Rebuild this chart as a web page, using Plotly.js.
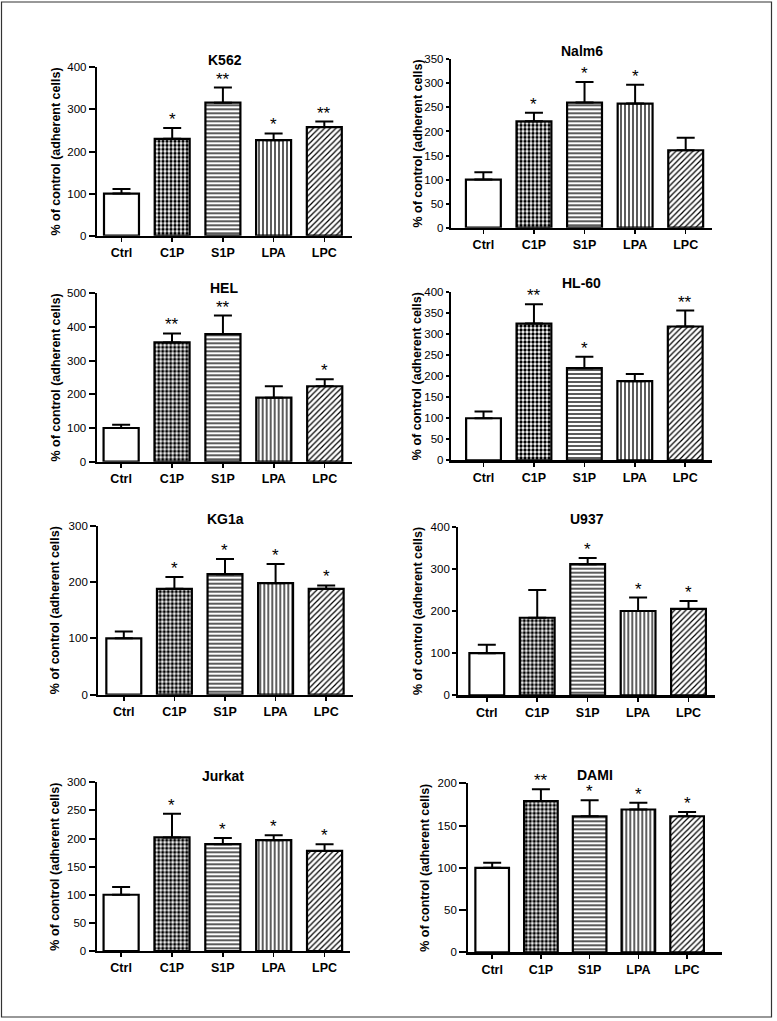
<!DOCTYPE html>
<html><head><meta charset="utf-8">
<script src="https://cdn.plot.ly/plotly-3.0.1.min.js"></script>
<style>body{margin:0;background:#fff}#chart{width:777px;height:1021px}</style>
</head><body><div id="chart"></div>
<script>
// ---- data ----
const categories = ["Ctrl", "C1P", "S1P", "LPA", "LPC"];
const panelNames = ["K562", "Nalm6", "HEL", "HL-60", "KG1a", "U937", "Jurkat", "DAMI"];
const yAxisTitle = "% of control (adherent cells)";

const k562Values = [100, 230, 316, 227, 258];
const k562Err    = [11, 26, 36, 16, 13];
const k562Stars  = ["", "*", "**", "*", "**"];

const nalm6Values = [100, 221, 260, 258, 161];
const nalm6Err    = [15, 18, 43, 39, 26];
const nalm6Stars  = ["", "*", "*", "*", ""];

const helValues = [100, 354, 379, 190, 224];
const helErr    = [10, 27, 55, 34, 21];
const helStars  = ["", "**", "**", "", "*"];

const hl60Values = [100, 325, 219, 188, 318];
const hl60Err    = [16, 46, 27, 17, 38];
const hl60Stars  = ["", "**", "*", "", "**"];

const kg1aValues = [100, 188, 214, 198, 188];
const kg1aErr    = [12, 21, 27, 34, 6];
const kg1aStars  = ["", "*", "*", "*", "*"];

const u937Values = [100, 184, 311, 200, 205];
const u937Err    = [20, 66, 15, 32, 19];
const u937Stars  = ["", "", "*", "*", "*"];

const jurkatValues = [100, 202, 190, 197, 178];
const jurkatErr    = [14, 42, 11, 9, 12];
const jurkatStars  = ["", "*", "*", "*", "*"];

const damiValues = [100, 179, 161, 169, 161];
const damiErr    = [6, 14, 19, 8, 5];
const damiStars  = ["", "**", "*", "*", "*"];

const yMax  = [400, 350, 500, 400, 300, 400, 300, 200];
const yDtick = [100, 50, 100, 50, 100, 100, 50, 50];

const allValues = [k562Values, nalm6Values, helValues, hl60Values, kg1aValues, u937Values, jurkatValues, damiValues];
const allErr    = [k562Err, nalm6Err, helErr, hl60Err, kg1aErr, u937Err, jurkatErr, damiErr];
const allStars  = [k562Stars, nalm6Stars, helStars, hl60Stars, kg1aStars, u937Stars, jurkatStars, damiStars];

// ---- layout geometry (pixels) ----
const W = 777, H = 1021;
// [xLeft, xRight, yTop, yBottom, xRangeLeft, xRangeRight, yTitleX, titleY, yTickLen]
const boxes = [
  [97, 352, 67.3, 235.7, -0.483, 4.546, 56, 60, 6],
  [451, 712, 59.3, 227.7, -0.64, 4.52, 418, 51, 3],
  [96.7, 351.7, 293.3, 461.7, -0.48, 4.53, 55, 288, 6],
  [451, 711.7, 292, 460.3, -0.645, 4.525, 417, 283, 3],
  [98.3, 352.7, 525.7, 694.7, -0.504, 4.524, 55, 519, 6],
  [458.3, 715, 526.7, 695.3, -0.565, 4.525, 418, 519, 4],
  [96.7, 350, 782.3, 951, -0.48, 4.5, 55, 775.5, 6],
  [468.3, 721.7, 783.3, 952.3, -0.49, 4.71, 425, 775, 7]
];

const FONT = "Liberation Sans, Arial, Helvetica, sans-serif";
const patternShapes = ["", ".", "-", "|", "/"];
const patternSizes = [4, 4, 4, 4, 4];
const patternSolid = [0.3, 0.55, 0.32, 0.32, 0.3];

const traces = [];
const annotations = [];
const layout = {
  width: W, height: H,
  margin: {l: 0, r: 0, t: 0, b: 0},
  paper_bgcolor: "#fff", plot_bgcolor: "rgba(0,0,0,0)",
  showlegend: false,
  font: {family: FONT, color: "#000", size: 12},
  shapes: [{
    type: "rect", xref: "paper", yref: "paper",
    x0: 1.5 / W, x1: 771.5 / W, y0: 1 - 1017 / H, y1: 1 - 2 / H,
    line: {color: "#333", width: 1.2}
  }],
  annotations: annotations
};

for (let i = 0; i < 8; i++) {
  const b = boxes[i];
  const s = i === 0 ? "" : String(i + 1);
  const xa = "x" + s, ya = "y" + s;
  traces.push({
    type: "bar", x: categories, y: allValues[i], xaxis: xa, yaxis: ya,
    width: 0.69,
    marker: {
      color: "#fff",
      line: {color: "#000", width: 2.2},
      pattern: {shape: patternShapes, size: patternSizes, solidity: patternSolid,
                fgcolor: "#000", bgcolor: "#fff", fillmode: "replace"}
    },
    error_y: {type: "data", symmetric: false, array: allErr[i], arrayminus: [0,0,0,0,0],
              color: "#000", thickness: 2, width: 9},
    hoverinfo: "skip"
  });
  layout["xaxis" + s] = {
    domain: [b[0] / W, b[1] / W], anchor: ya,
    range: [b[4], b[5]], type: "category",
    showline: true, linecolor: "#000", linewidth: 2.2,
    ticks: "outside", ticklen: 4, tickwidth: 1.5, tickcolor: "#000",
    tickfont: {family: FONT, size: 12.5, weight: "bold", color: "#000"},
    showgrid: false, zeroline: false, fixedrange: true
  };
  layout["yaxis" + s] = {
    domain: [1 - b[3] / H, 1 - b[2] / H], anchor: xa,
    range: [0, yMax[i]], dtick: yDtick[i], tick0: 0,
    showline: true, linecolor: "#000", linewidth: 2.2,
    ticks: "outside", ticklen: b[8], tickwidth: 2, tickcolor: "#000",
    ticklabelstandoff: 0,
    tickfont: {family: FONT, size: 11.5, color: "#000"},
    showgrid: false, zeroline: false, fixedrange: true
  };
  // panel title
  annotations.push({
    xref: "paper", yref: "paper", x: ((b[0] + b[1]) / 2) / W, y: 1 - b[7] / H,
    xanchor: "center", yanchor: "middle", showarrow: false,
    text: "<b>" + panelNames[i] + "</b>", font: {family: FONT, size: 14, color: "#000"}
  });
  // y axis title
  annotations.push({
    xref: "paper", yref: "paper", x: b[6] / W, y: 1 - (b[2] + b[3]) / 2 / H,
    xanchor: "center", yanchor: "middle", showarrow: false, textangle: -90,
    text: "<b>" + yAxisTitle + "</b>", font: {family: FONT, size: 12.5, color: "#000"}
  });
  // significance stars
  for (let j = 0; j < categories.length; j++) {
    if (!allStars[i][j]) continue;
    annotations.push({
      xref: xa, yref: ya, x: categories[j], y: allValues[i][j] + allErr[i][j],
      xanchor: "center", yanchor: "bottom", yshift: -3, showarrow: false,
      text: allStars[i][j], font: {family: FONT, size: 17, color: "#000"}
    });
  }
}

Plotly.newPlot("chart", traces, layout, {staticPlot: true, displayModeBar: false});
</script>
</body></html>
